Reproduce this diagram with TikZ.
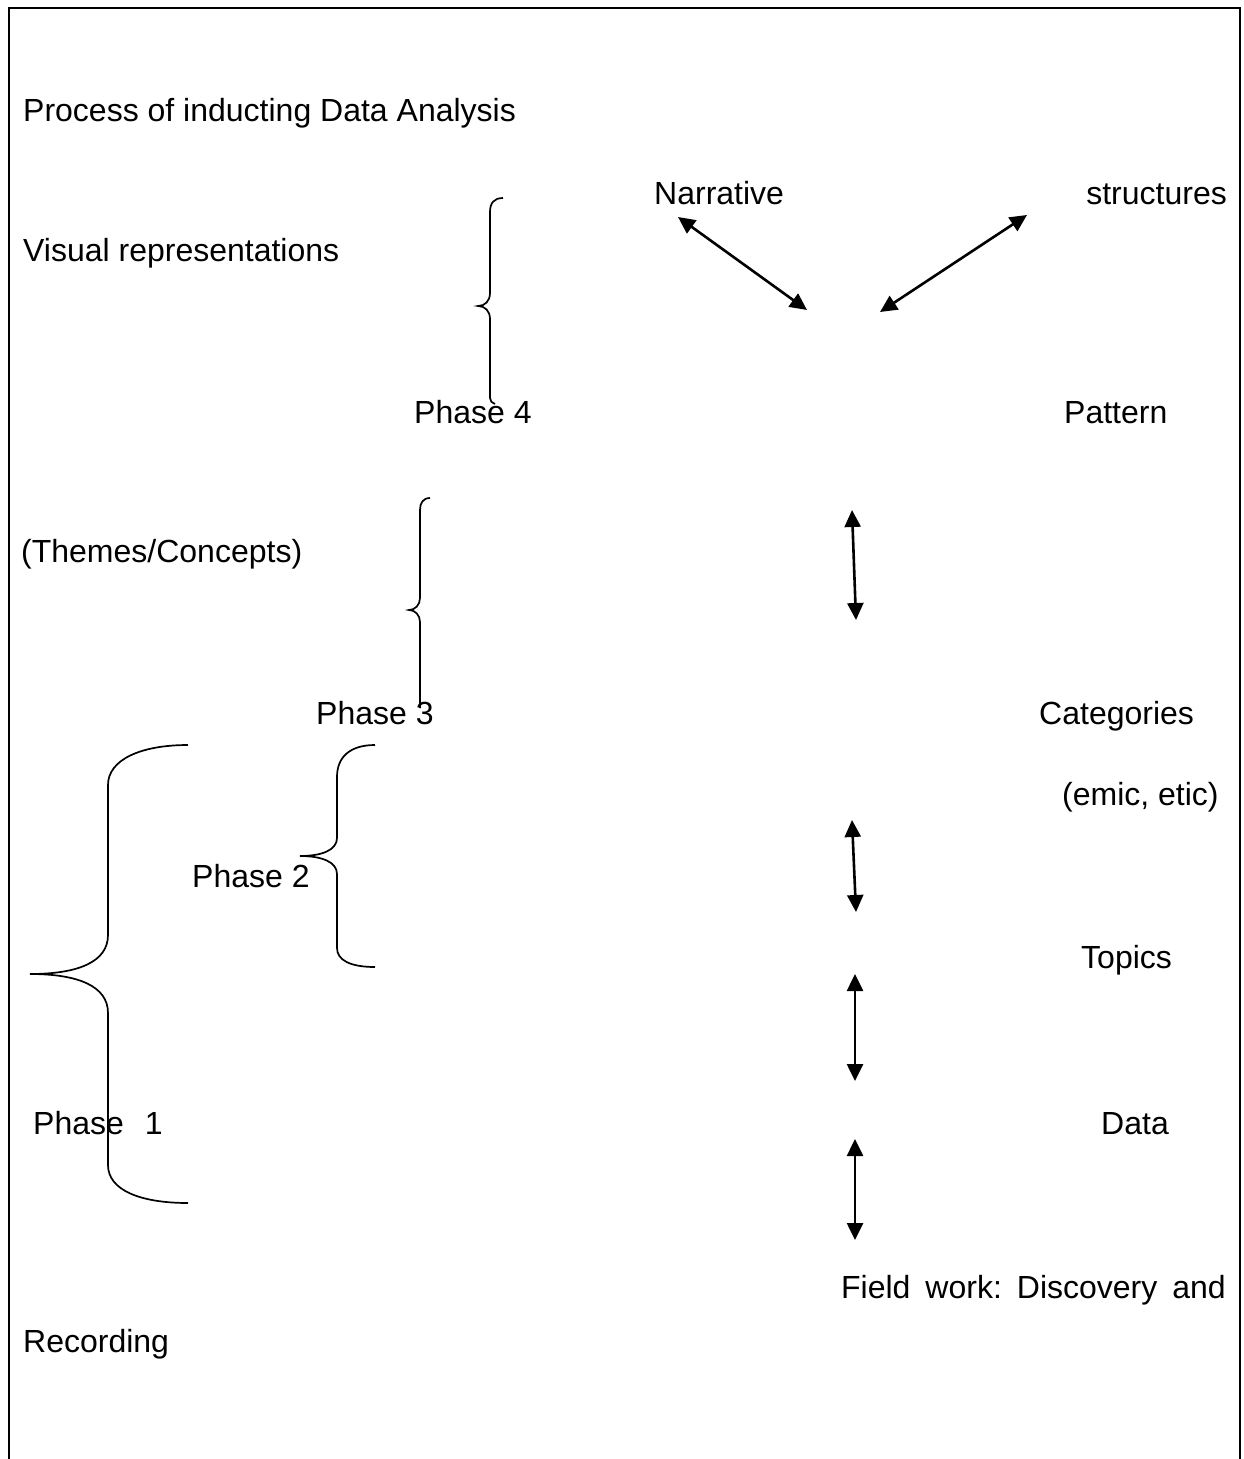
\documentclass[tikz,border=0pt]{standalone}
\usepackage{fontspec}
\setmainfont{Liberation Sans}
\usetikzlibrary{arrows.meta}
\begin{document}
\begin{tikzpicture}[x=1pt,y=-1pt,
  lbl/.style={inner sep=0pt,anchor=base west,font=\fontsize{32}{38}\selectfont},
  lblr/.style={inner sep=0pt,anchor=base east,font=\fontsize{32}{38}\selectfont},
  frame/.style={line width=2pt},
  brace/.style={line width=1.7pt},
  dbl/.style={line width=2.6pt,{Triangle[length=17pt,width=16pt]}-{Triangle[length=17pt,width=16pt]}}]
\useasboundingbox (0,0) rectangle (1243,1459);
% frame
\draw[frame] (9,1460) -- (9,8) -- (1240,8) -- (1240,1460);
% texts
\node[lbl] (title) at (23,121) {Process of inducting Data Analysis};
\node[lbl] (narr) at (654,204) {Narrative};
\node[lblr] (struct) at (1227,204) {structures};
\node[lbl] (visual) at (23,261) {Visual representations};
\node[lbl] (ph4) at (414,423) {Phase 4};
\node[lbl] (pattern) at (1064,423) {Pattern};
\node[lbl] (themes) at (21,562) {(Themes/Concepts)};
\node[lbl] (ph3) at (316,724) {Phase 3};
\node[lbl] (cat) at (1039,724) {Categories};
\node[lbl] (emic) at (1062,805) {(emic, etic)};
\node[lbl] (ph2) at (192,887) {Phase 2};
\node[lbl] (topics) at (1081,968) {Topics};
\node[lbl] (ph1) at (33,1134) {Phase\hspace{21pt}1};
\node[lbl] (data) at (1101,1134) {Data};
\node[lblr] (field) at (1226,1298) {Field\hspace{15pt}work:\hspace{15pt}Discovery\hspace{15pt}and};
\node[lbl] (rec) at (23,1352) {Recording};
% arrow end points
\coordinate (a1s) at (678,217); \coordinate (a1e) at (807,310);
\coordinate (a2s) at (1027,215); \coordinate (a2e) at (880,312);
\coordinate (a3s) at (852,510); \coordinate (a3e) at (856,620);
\coordinate (a4s) at (852,820); \coordinate (a4e) at (856,912);
\coordinate (a5s) at (855,974); \coordinate (a5e) at (855,1081);
\coordinate (a6s) at (855,1139); \coordinate (a6e) at (855,1240);
\draw[dbl] (a1s) -- (a1e);
\draw[dbl] (a2s) -- (a2e);
\draw[dbl] (a3s) -- (a3e);
\draw[dbl] (a4s) -- (a4e);
\draw[dbl] (a5s) -- (a5e);
\draw[dbl] (a6s) -- (a6e);
% brace 4
\draw[brace] (503,198) .. controls (494,198) and (490,203) .. (490,212)
  -- (490,293) .. controls (490,301) and (485,306) .. (478,306)
  .. controls (485,306) and (490,311) .. (490,319)
  -- (490,398) .. controls (490,401) and (492,403) .. (495,404);
% brace 3
\draw[brace] (430,498) .. controls (423,498) and (420,503) .. (420,510)
  -- (420,598) .. controls (420,605) and (415,610) .. (409,610)
  .. controls (415,610) and (420,615) .. (420,622)
  -- (420,708);
% brace 2
\draw[brace] (375,745) .. controls (350,745) and (337,757) .. (337,777)
  -- (337,838) .. controls (337,850) and (322,856) .. (300,856)
  .. controls (322,856) and (337,862) .. (337,874)
  -- (337,948) .. controls (337,960) and (350,967) .. (375,967);
% brace 1
\draw[brace] (188,745) .. controls (140,745) and (108,760) .. (108,785)
  -- (108,935) .. controls (108,962) and (78,974) .. (30,974)
  .. controls (78,974) and (108,986) .. (108,1013)
  -- (108,1165) .. controls (108,1190) and (140,1203) .. (188,1203);
\end{tikzpicture}
\end{document}
